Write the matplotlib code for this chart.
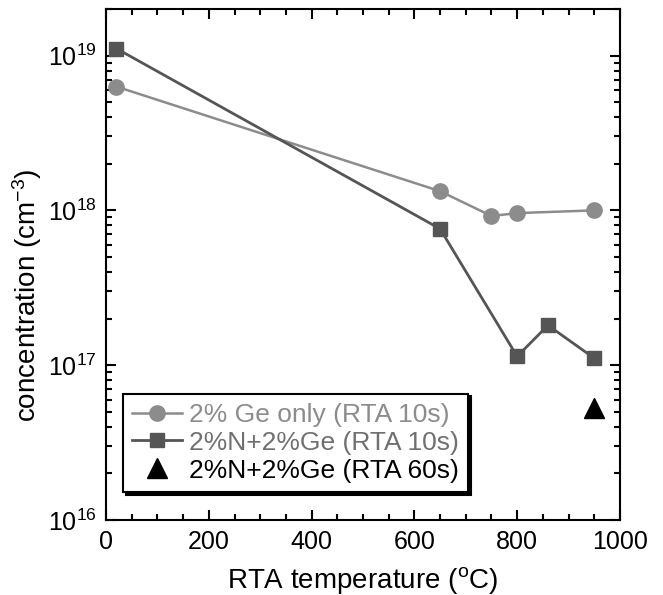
import numpy as np
import matplotlib
matplotlib.use("Agg")
import matplotlib.pyplot as plt
from matplotlib.ticker import MultipleLocator, LogLocator

plt.rcParams['font.family'] = ['Liberation Sans', 'DejaVu Sans']
plt.rcParams['mathtext.fontset'] = 'custom'
plt.rcParams['mathtext.rm'] = 'Liberation Sans'
plt.rcParams['mathtext.it'] = 'Liberation Sans:italic'
plt.rcParams['mathtext.bf'] = 'Liberation Sans:bold'

# data
temp_ge = [20, 650, 750, 800, 950]
conc_ge = [6.3e18, 1.33e18, 9.2e17, 9.6e17, 1.0e18]

temp_nge10 = [20, 650, 800, 860, 950]
conc_nge10 = [1.11e19, 7.6e17, 1.14e17, 1.81e17, 1.11e17]

temp_nge60 = [950]
conc_nge60 = [5.3e16]

labels = ["2% Ge only (RTA 10s)", "2%N+2%Ge (RTA 10s)", "2%N+2%Ge (RTA 60s)"]

fig = plt.figure(figsize=(6.63, 5.95), dpi=100)
ax = fig.add_axes([0.160, 0.126, 0.775, 0.859])

ax.plot(temp_ge, conc_ge, color="#8c8c8c", marker="o", ms=11, lw=1.8, label=labels[0])
ax.plot(temp_nge10, conc_nge10, color="#555555", marker="s", ms=10.5, lw=2.0, label=labels[1])
ax.plot(temp_nge60, conc_nge60, color="black", marker="^", ms=14, ls="none", label=labels[2])

ax.set_yscale("log")
ax.set_xlim(0, 1000)
ax.set_ylim(1e16, 2e19)
ax.xaxis.set_major_locator(MultipleLocator(200))
ax.xaxis.set_minor_locator(MultipleLocator(50))
ax.yaxis.set_major_locator(LogLocator(base=10, numticks=10))
ax.yaxis.set_minor_locator(LogLocator(base=10, subs=np.arange(2, 10), numticks=20))

ax.tick_params(which="both", direction="in", top=True, right=True, width=1.5, labelsize=18)
ax.tick_params(which="major", length=7, pad=7)
ax.tick_params(which="minor", length=4)
for s in ax.spines.values():
    s.set_linewidth(1.5)

ax.set_xlabel(r"RTA temperature ($^{\mathrm{o}}$C)", fontsize=20)
ax.set_ylabel(r"concentration (cm$^{-3}$)", fontsize=20)
ax.xaxis.set_label_coords(0.5, -0.088)
ax.yaxis.set_label_coords(-0.12, 0.44)

leg = ax.legend(loc="lower left", bbox_to_anchor=(0.033, 0.055), borderaxespad=0,
                fontsize=19, frameon=True, fancybox=False, edgecolor="black",
                shadow={"color": "black", "alpha": 1}, handlelength=1.9,
                handletextpad=0.25, labelspacing=0.15, borderpad=0.35,
                labelcolor=["#8c8c8c", "#707070", "black"])
leg.get_frame().set_linewidth(1.5)

fig.savefig("out.png", dpi=100)
